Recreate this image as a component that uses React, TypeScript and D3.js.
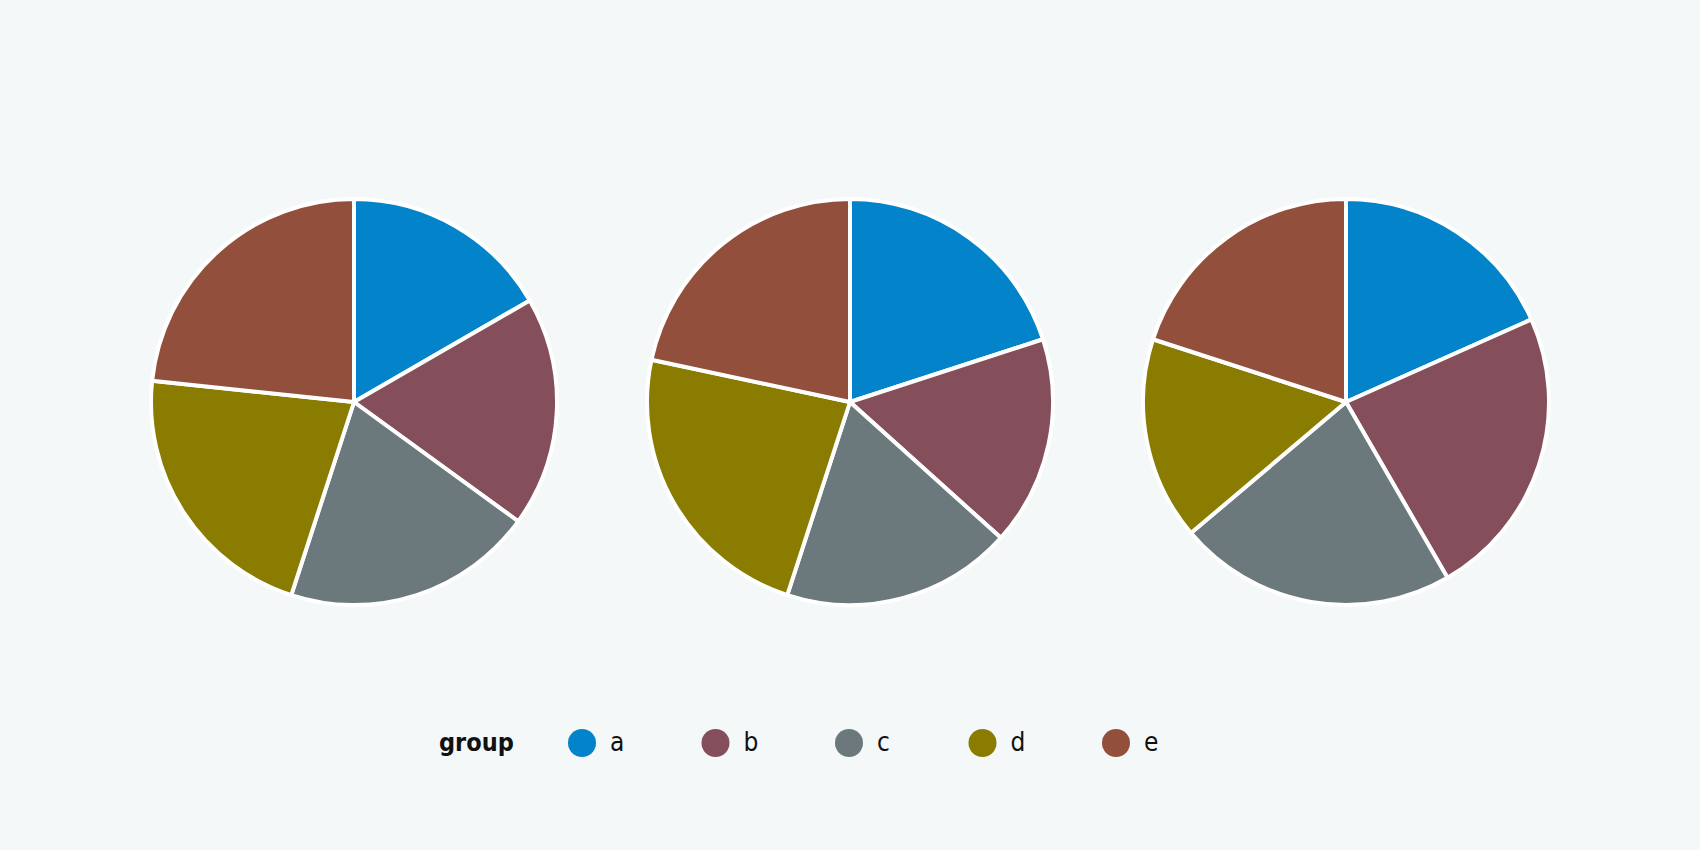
import React from "react";
import * as d3 from "d3";

const groups = ["a", "b", "c", "d", "e"];
const colors = ["#0383C9", "#844E5A", "#6B787C", "#8A7C00", "#924F3C"];
const pie1 = [10, 11, 12, 13, 14];
const pie2 = [12, 10, 11, 14, 13];
const pie3 = [11, 14, 13.3, 9.7, 12];
const datasets = [pie1, pie2, pie3];

const W = 1700;
const H = 850;
const FONT = "'DejaVu Sans', sans-serif";

export default function App() {
  const color = d3.scaleOrdinal<string, string>().domain(groups).range(colors);
  const cx = d3.scalePoint<number>().domain([0, 1, 2]).range([354, 1346]);
  const R = 203;
  const arc = d3.arc<d3.PieArcDatum<number>>().innerRadius(0).outerRadius(R);
  const pie = d3.pie<number>().sort(null).value((d) => d);
  const legendX = d3.scalePoint<string>().domain(groups).range([582, 1116]);

  return (
    <svg
      width={W}
      height={H}
      style={{ position: "absolute", left: 0, top: 0, display: "block" }}
    >
      <rect x={0} y={0} width={W} height={H} fill="#F5F8F9" />
      {datasets.map((ds, i) => (
        <g key={i} transform={`translate(${cx(i)},402)`}>
          {pie(ds).map((s, j) => (
            <path
              key={j}
              d={arc(s) || ""}
              fill={color(groups[j])}
              stroke="#FFFFFF"
              strokeWidth={4}
              strokeLinejoin="round"
            />
          ))}
        </g>
      ))}
      <g>
        <text
          x={439}
          y={742}
          dominantBaseline="central"
          fontFamily={FONT}
          fontWeight="bold"
          fontSize={25}
          fill="#111"
          style={{ fontStretch: "condensed" }}
        >
          group
        </text>
        {groups.map((g) => (
          <g key={g}>
            <circle cx={legendX(g)} cy={743} r={14} fill={color(g)} />
            <text
              x={(legendX(g) as number) + 28}
              y={742}
              dominantBaseline="central"
              fontFamily={FONT}
              fontSize={26}
              fill="#111"
              style={{ fontStretch: "condensed" }}
            >
              {g}
            </text>
          </g>
        ))}
      </g>
    </svg>
  );
}
